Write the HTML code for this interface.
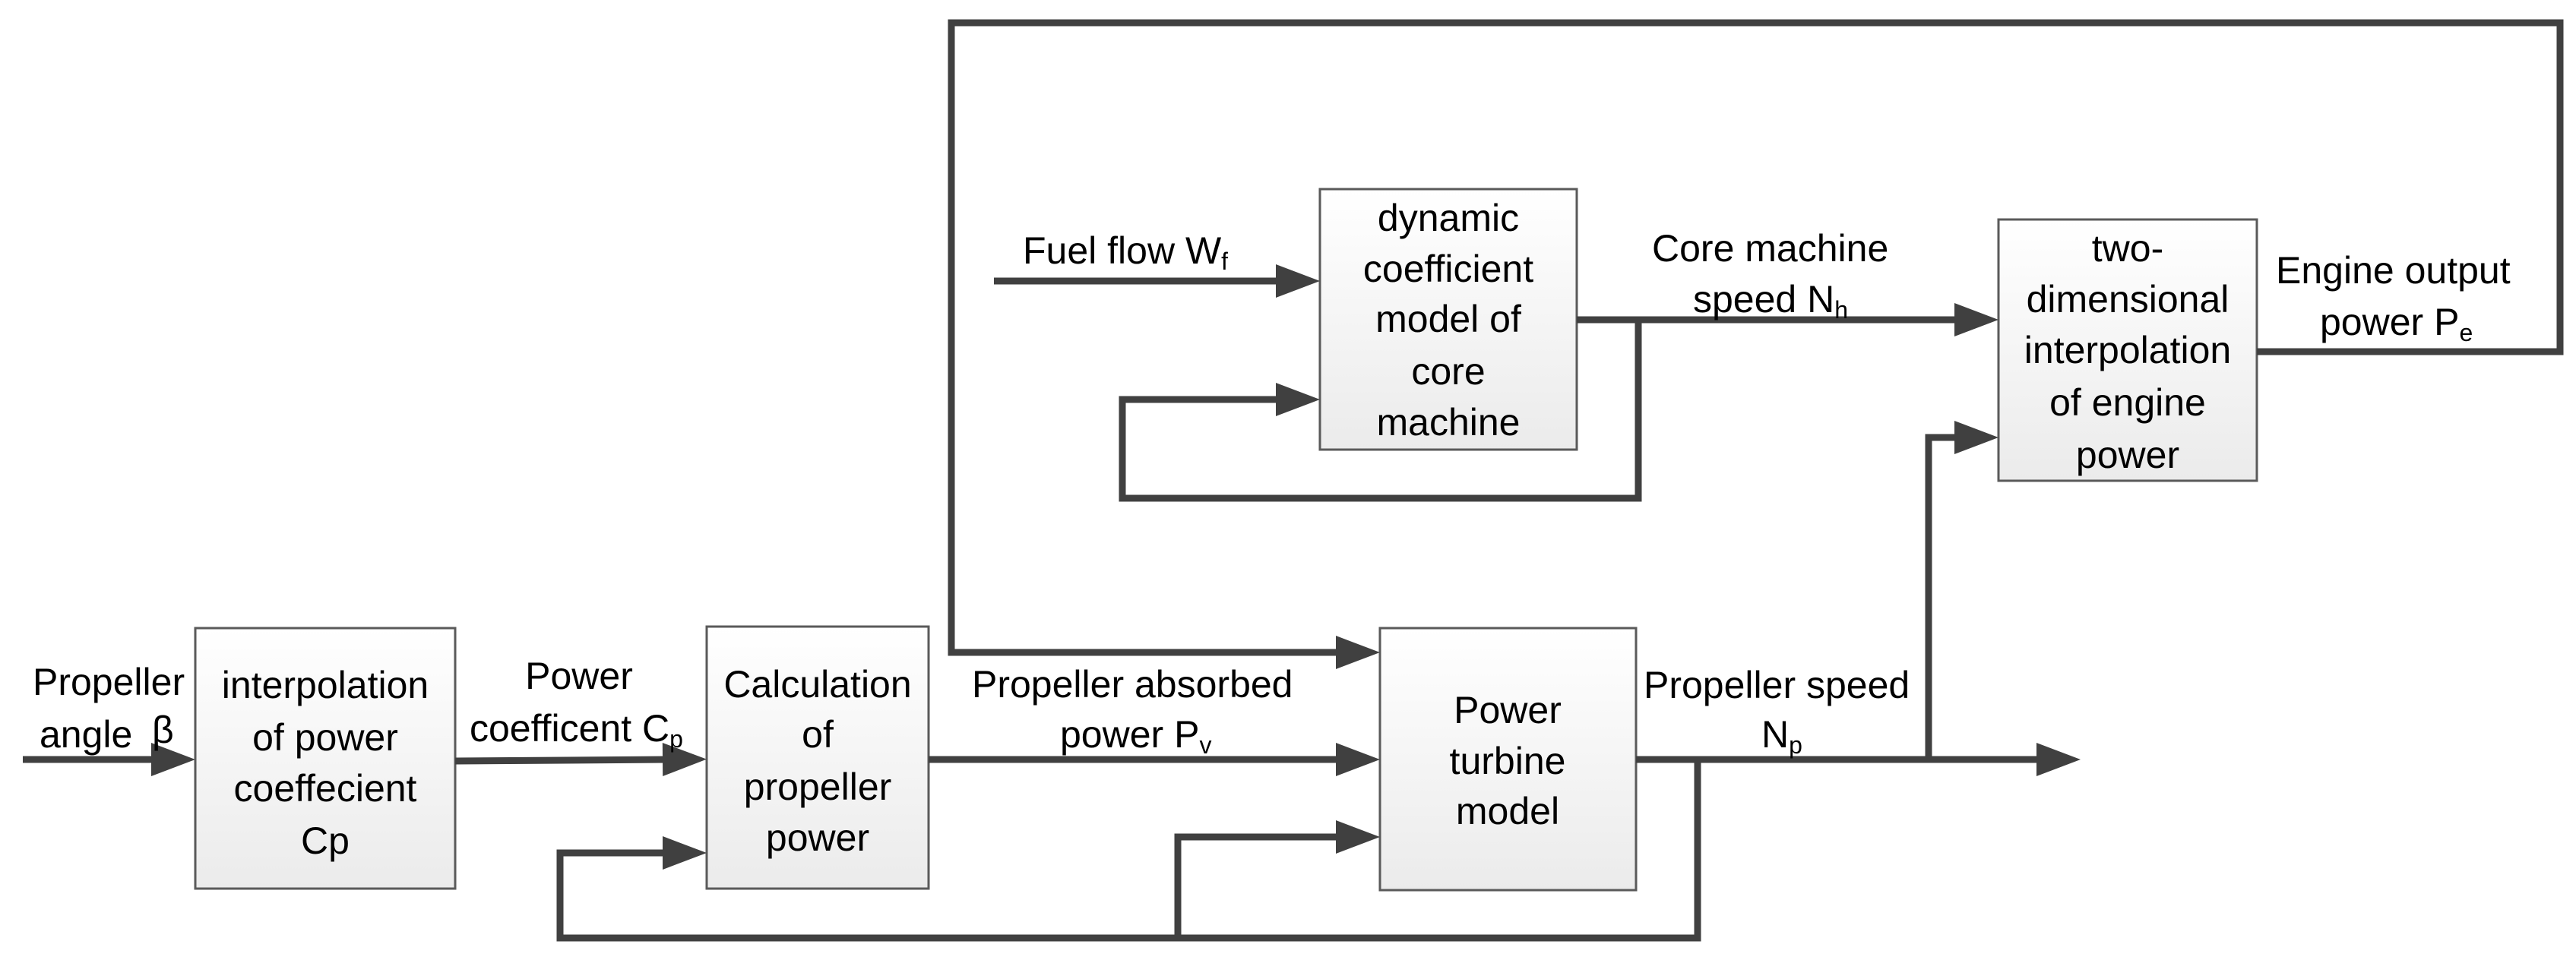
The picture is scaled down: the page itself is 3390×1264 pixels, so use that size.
<!DOCTYPE html>
<html><head><meta charset="utf-8"><style>
html,body{margin:0;padding:0;background:#fff;}
svg{display:block;}
text{font-family:"Liberation Sans",sans-serif;font-size:50px;fill:#000;}
.c{text-anchor:middle;}
</style></head><body>
<svg width="3390" height="1264" viewBox="0 0 3390 1264" xmlns="http://www.w3.org/2000/svg">
<defs>
<linearGradient id="g" x1="0" y1="0" x2="0" y2="1">
<stop offset="0" stop-color="#ffffff"/><stop offset="1" stop-color="#ebebeb"/>
</linearGradient>
<marker id="a" markerUnits="userSpaceOnUse" markerWidth="58" markerHeight="44" refX="7" refY="22" orient="auto" overflow="visible">
<path d="M0,0 L58,22 L0,44 Z" fill="#404040"/>
</marker>
</defs>
<g fill="url(#g)" stroke="#5a5a5a" stroke-width="3">
<rect x="257" y="827" width="342" height="343"/>
<rect x="930" y="825" width="292" height="345"/>
<rect x="1816" y="827" width="337" height="345"/>
<rect x="1737" y="249" width="338" height="343"/>
<rect x="2630" y="289" width="340" height="344"/>
</g>
<g fill="none" stroke="#404040" stroke-width="9" stroke-linecap="butt" stroke-linejoin="miter">
<path d="M30,1000 L206,1000" marker-end="url(#a)"/>
<path d="M599,1002 L879,1000" marker-end="url(#a)"/>
<path d="M1222,1000 L1765,1000" marker-end="url(#a)"/>
<path d="M2153,1000 L2687,1000" marker-end="url(#a)"/>
<path d="M2234,1000 L2234,1235 L737,1235 L737,1123 L879,1123" marker-end="url(#a)"/>
<path d="M1550,1235 L1550,1102 L1765,1102" marker-end="url(#a)"/>
<path d="M2538,1000 L2538,576 L2579,576" marker-end="url(#a)"/>
<path d="M2970,463 L3369,463 L3369,30 L1252,30 L1252,859 L1765,859" marker-end="url(#a)"/>
<path d="M1308,370 L1686,370" marker-end="url(#a)"/>
<path d="M2075,421 L2579,421" marker-end="url(#a)"/>
<path d="M2156,421 L2156,656 L1477,656 L1477,526 L1686,526" marker-end="url(#a)"/>
</g>
<text class="c" x="428" y="919">interpolation</text>
<text class="c" x="428" y="988">of power</text>
<text class="c" x="428" y="1055">coeffecient</text>
<text class="c" x="428" y="1124">Cp</text>
<text class="c" x="1076" y="918">Calculation</text>
<text class="c" x="1076" y="984">of</text>
<text class="c" x="1076" y="1053">propeller</text>
<text class="c" x="1076" y="1120">power</text>
<text class="c" x="1984" y="952">Power</text>
<text class="c" x="1984" y="1019">turbine</text>
<text class="c" x="1984" y="1085">model</text>
<text class="c" x="1906" y="304">dynamic</text>
<text class="c" x="1906" y="371">coefficient</text>
<text class="c" x="1906" y="437">model of</text>
<text class="c" x="1906" y="506">core</text>
<text class="c" x="1906" y="573">machine</text>
<text class="c" x="2800" y="344">two-</text>
<text class="c" x="2800" y="411">dimensional</text>
<text class="c" x="2800" y="478">interpolation</text>
<text class="c" x="2800" y="547">of engine</text>
<text class="c" x="2800" y="616">power</text>
<text x="43" y="915">Propeller</text>
<text x="52" y="984">angle</text>
<text x="200" y="978">β</text>
<text class="c" x="762" y="907">Power</text>
<text x="618" y="976">coefficent C<tspan font-size="32" dy="8">p</tspan></text>
<text x="1279" y="918">Propeller absorbed</text>
<text x="1395" y="984">power P<tspan font-size="32" dy="8">v</tspan></text>
<text x="1346" y="347">Fuel flow W<tspan font-size="32" dy="8">f</tspan></text>
<text x="2174" y="344">Core machine</text>
<text x="2228" y="411">speed N<tspan font-size="32" dy="8">h</tspan></text>
<text x="2995" y="373">Engine output</text>
<text x="3053" y="441">power P<tspan font-size="32" dy="8">e</tspan></text>
<text x="2163" y="919">Propeller speed</text>
<text x="2318" y="984">N<tspan font-size="32" dy="8">p</tspan></text>
</svg>
</body></html>
